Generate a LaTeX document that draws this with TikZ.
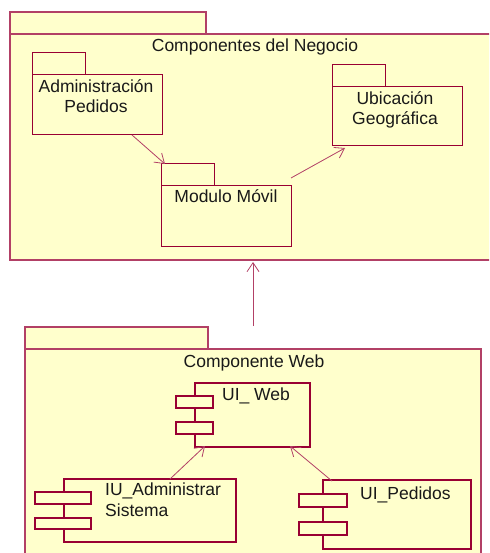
\documentclass[tikz,border=0pt]{standalone}
\usepackage{fontspec}
\setmainfont{Liberation Sans}
\usetikzlibrary{arrows.meta}

\definecolor{umlfill}{RGB}{255,255,204}
\definecolor{umlline}{RGB}{153,0,51}
\definecolor{umltext}{RGB}{25,25,25}

\tikzset{
  box/.style={draw=umlline,fill=umlfill,anchor=north west,inner sep=0pt,outer sep=0pt},
  pkg/.style={box,draw=umlline!75,line width=1.3pt},
  sub/.style={box,line width=1pt},
  comp/.style={box,line width=1.6pt},
  port/.style={box,line width=1.6pt},
  txt/.style={text=umltext,inner sep=0pt,font=\fontsize{17.5}{20.5}\selectfont},
  dep/.style={draw=umlline!75,line width=0.8pt,-{Straight Barb[length=9pt,width=12pt]}}
}

\begin{document}
\begin{tikzpicture}[x=1pt,y=-1pt]
\useasboundingbox (0,0) rectangle (489,553);
\clip (0,0) rectangle (489,553);

% paquete superior
\node[pkg,minimum width=196,minimum height=22] (negtab) at (10,12) {};
\node[pkg,minimum width=490,minimum height=226] (neg) at (10,34) {};
\node[txt,anchor=base] (negt) at (255,52) {Componentes del Negocio};

\node[sub,minimum width=53,minimum height=22] (admtab) at (32,53) {};
\node[sub,minimum width=130,minimum height=60] (adm) at (32,75) {};
\node[txt,anchor=base,align=center] (admt) at (96,113) {Administración\\Pedidos};

\node[sub,minimum width=53,minimum height=22] (ubitab) at (332,65) {};
\node[sub,minimum width=130,minimum height=59] (ubi) at (332,87) {};
\node[txt,anchor=base,align=center] (ubit) at (395,125) {Ubicación\\Geográfica};

\node[sub,minimum width=53,minimum height=22] (movtab) at (161,164) {};
\node[sub,minimum width=130,minimum height=60] (mov) at (161,186) {};
\node[txt,anchor=base] (movt) at (226,203) {Modulo Móvil};

\draw[dep] ([xshift=35pt]adm.south) -- ([xshift=4pt]movtab.north west);
\draw[dep] ([yshift=8pt]mov.north east) -- ([xshift=13pt,yshift=-2pt]ubi.south west);

% paquete web
\node[pkg,minimum width=183,minimum height=22] (webtab) at (25,327) {};
\node[pkg,minimum width=456,minimum height=230] (web) at (25,349) {};
\node[txt,anchor=base] (webt) at (254,367) {Componente Web};

\draw[dep] ([yshift=23pt]web.north) -- ([yshift=-2pt]neg.south -| web.north);

% componentes
\node[comp,minimum width=115,minimum height=64] (uiw) at (195,383) {};
\node[port,minimum width=37,minimum height=12] (uiwa) at (176,396) {};
\node[port,minimum width=37,minimum height=12] (uiwb) at (176,422) {};
\node[txt,anchor=base] (uiwt) at (256,400) {UI\_ Web};

\node[comp,minimum width=172,minimum height=63] (iua) at (64,479) {};
\node[port,minimum width=56,minimum height=12] (iuaa) at (35,492) {};
\node[port,minimum width=56,minimum height=11] (iuab) at (35,518) {};
\node[txt,anchor=base west,align=left] (iuat) at (105,516) {IU\_Administrar\\Sistema};

\node[comp,minimum width=148,minimum height=69] (ped) at (323,480) {};
\node[port,minimum width=48,minimum height=13] (peda) at (299,494) {};
\node[port,minimum width=48,minimum height=13] (pedb) at (299,522) {};
\node[txt,anchor=base west] (pedt) at (360,499) {UI\_Pedidos};

\draw[dep] ([xshift=20pt]iua.north) -- ([xshift=10pt,yshift=1pt]uiw.south west);
\draw[dep] ([xshift=9pt,yshift=-1pt]ped.north west) -- ([xshift=-20pt,yshift=1pt]uiw.south east);

\end{tikzpicture}
\end{document}
